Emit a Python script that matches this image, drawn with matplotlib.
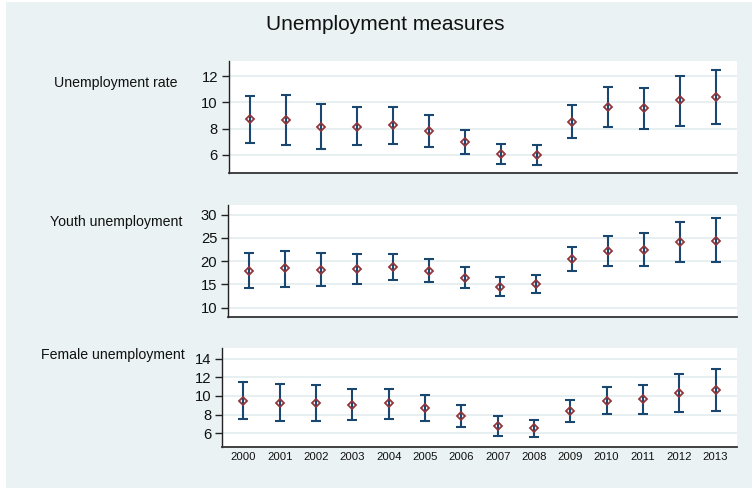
import matplotlib
matplotlib.use("Agg")
import matplotlib.pyplot as plt
from matplotlib.patches import Rectangle

plt.rcParams['font.family'] = ['Liberation Sans', 'DejaVu Sans']

years = list(range(2000, 2014))

rate_mid = [8.73, 8.63, 8.15, 8.15, 8.25, 7.79, 6.98, 6.09, 6.02, 8.53, 9.67, 9.57, 10.15, 10.38]
rate_lo = [6.90, 6.75, 6.43, 6.75, 6.86, 6.63, 6.05, 5.31, 5.23, 7.26, 8.10, 7.99, 8.22, 8.37]
rate_hi = [10.46, 10.58, 9.85, 9.62, 9.62, 9.00, 7.92, 6.85, 6.73, 9.79, 11.16, 11.11, 11.98, 12.43]

youth_mid = [17.83, 18.47, 18.17, 18.39, 18.75, 17.96, 16.45, 14.52, 15.03, 20.54, 22.19, 22.48, 24.13, 24.41]
youth_lo = [14.17, 14.38, 14.60, 15.16, 15.88, 15.45, 14.24, 12.52, 13.16, 17.89, 18.90, 18.90, 19.90, 19.76]
youth_hi = [21.70, 22.26, 21.83, 21.55, 21.55, 20.54, 18.75, 16.53, 16.97, 23.12, 25.35, 26.06, 28.36, 29.22]

female_mid = [9.50, 9.28, 9.22, 9.00, 9.22, 8.72, 7.86, 6.82, 6.54, 8.36, 9.50, 9.65, 10.29, 10.61]
female_lo = [7.57, 7.32, 7.32, 7.39, 7.57, 7.32, 6.68, 5.75, 5.64, 7.18, 8.07, 8.07, 8.29, 8.36]
female_hi = [11.47, 11.32, 11.15, 10.72, 10.78, 10.11, 9.07, 7.89, 7.46, 9.54, 11.00, 11.21, 12.33, 12.86]

panel_titles = ["Unemployment rate", "Youth unemployment", "Female unemployment"]
rate_ticks = [6, 8, 10, 12]
youth_ticks = [10, 15, 20, 25, 30]
female_ticks = [6, 8, 10, 12, 14]

BG = "#EAF2F3"
NAVY = "#1A476F"
MAROON = "#90353B"
GRID = "#E3ECEE"

W, H = 752, 488
fig = plt.figure(figsize=(W / 100, H / 100), dpi=100)
fig.patch.set_facecolor("white")
fig.add_artist(Rectangle((6 / W, 0), 1 - 6 / W, 1 - 2 / H, transform=fig.transFigure,
                         facecolor=BG, edgecolor="none", zorder=-10))

def px_axes(left, top, right, bottom):
    return fig.add_axes([left / W, 1 - bottom / H, (right - left) / W, (bottom - top) / H])

panels = [
    dict(box=(229, 61, 737, 173), mid=rate_mid, lo=rate_lo, hi=rate_hi,
         ticks=rate_ticks, ylim=(4.63, 13.14), label_xy=(116, 83)),
    dict(box=(228.3, 204.7, 737, 316.7), mid=youth_mid, lo=youth_lo, hi=youth_hi,
         ticks=youth_ticks, ylim=(8.06, 32.15), label_xy=(116, 221.7)),
    dict(box=(222.3, 348.3, 737, 446.7), mid=female_mid, lo=female_lo, hi=female_hi,
         ticks=female_ticks, ylim=(4.57, 15.1), label_xy=(112.5, 355)),
]

for i, (p, title) in enumerate(zip(panels, panel_titles)):
    ax = px_axes(*p["box"])
    ax.set_facecolor("white")
    mid, lo, hi = p["mid"], p["lo"], p["hi"]
    yerr = [[m - l for m, l in zip(mid, lo)], [h - m for m, h in zip(mid, hi)]]
    ax.errorbar(years, mid, yerr=yerr, fmt="none", ecolor=NAVY, elinewidth=1.5,
                capsize=3.6, capthick=1.5, zorder=3)
    ax.plot(years, mid, linestyle="none", marker="D", markersize=3.9,
            markerfacecolor="none", markeredgecolor=MAROON, markeredgewidth=1.3, zorder=4)
    ax.set_xlim(1999.42, 2013.59)
    ax.set_ylim(*p["ylim"])
    ax.set_yticks(p["ticks"])
    ax.yaxis.grid(True, color=GRID, linewidth=1.2)
    ax.set_axisbelow(True)
    for s in ("top", "right"):
        ax.spines[s].set_visible(False)
    ax.spines["left"].set_color("#222222")
    ax.spines["left"].set_linewidth(1.0)
    ax.spines["bottom"].set_color("#333333")
    ax.spines["bottom"].set_linewidth(1.3)
    ax.tick_params(axis="y", length=5, width=1.0, color="#222222", pad=3,
                   labelsize=10.6, labelcolor="#111111")
    if i == 2:
        ax.set_xticks(years)
        ax.set_xticklabels([str(y) for y in years])
        ax.tick_params(axis="x", length=0, pad=4, labelsize=8.2, labelcolor="#111111")
    else:
        ax.set_xticks([])
    lx, ly = p["label_xy"]
    fig.text(lx / W, 1 - ly / H, title, ha="center", va="center", fontsize=10.2,
             color="#111111")

fig.text(385 / W, 1 - 24 / H, "Unemployment measures", ha="center", va="center",
         fontsize=15, color="#111111")

fig.savefig("out.png", dpi=100, facecolor=fig.get_facecolor())
